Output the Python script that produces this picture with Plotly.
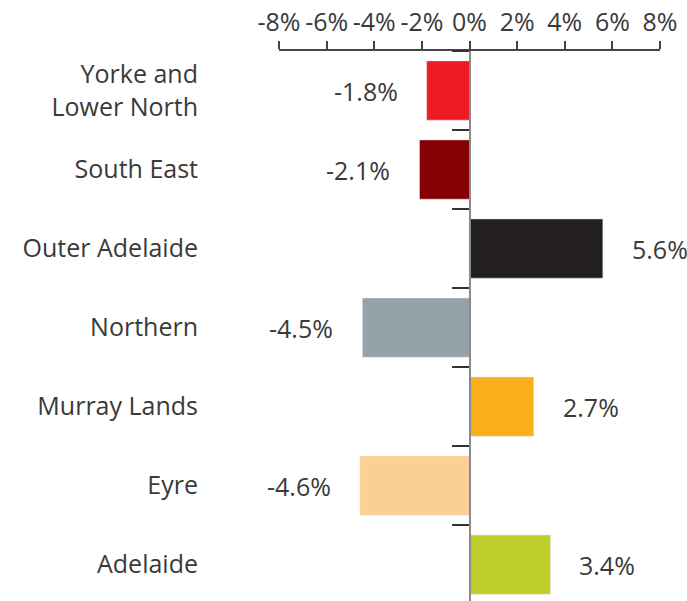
import plotly.graph_objects as go

regions = ['Yorke and<br>Lower North', 'South East', 'Outer Adelaide', 'Northern',
           'Murray Lands', 'Eyre', 'Adelaide']
change_pct = [-1.8, -2.1, 5.6, -4.5, 2.7, -4.6, 3.4]
bar_colors = ['#ED1C24', '#850005', '#231F20', '#95A3A8', '#F9AE1C', '#FCCF94', '#BECD2A']
x_ticks = [-8, -6, -4, -2, 0, 2, 4, 6, 8]

FONT = 'Open Sans'
TEXT = '#3a3a3a'
SIZE = 25

fig = go.Figure()

# Bars on the label axis (left)
fig.add_trace(go.Bar(
    x=change_pct, y=regions, orientation='h',
    marker=dict(color=bar_colors, line=dict(width=0)),
    yaxis='y', hoverinfo='x+y',
))
# Invisible copy so the zero-line axis gets its categories
fig.add_trace(go.Bar(
    x=change_pct, y=regions, orientation='h',
    marker=dict(color='rgba(0,0,0,0)'), yaxis='y2',
    hoverinfo='skip', showlegend=False,
))

# Value labels beside each bar
for r, v in zip(regions, change_pct):
    fig.add_annotation(
        x=v, y=r, yref='y', text=f'{v:.1f}%', showarrow=False,
        xanchor='left' if v > 0 else 'right',
        xshift=27 if v > 0 else -27,
        font=dict(family=FONT, size=SIZE, color=TEXT),
    )

y_range = [6.46, -0.5]

fig.update_layout(
    width=687, height=601,
    margin=dict(l=279, r=27, t=51, b=0),
    plot_bgcolor='white', paper_bgcolor='white',
    showlegend=False, barmode='overlay', bargap=0.25,
    font=dict(family=FONT, size=SIZE, color=TEXT),
    xaxis=dict(
        side='top', range=[-8, 8], tickvals=x_ticks,
        ticktext=[f'{t}%' for t in x_ticks],
        showgrid=False, zeroline=False, automargin=False,
        showline=True, linecolor='#444', linewidth=1.5,
        ticks='outside', ticklen=8, tickwidth=1.5, tickcolor='#444',
        tickfont=dict(family=FONT, size=SIZE, color=TEXT),
    ),
    yaxis=dict(
        type='category', range=y_range, automargin=False,
        showgrid=False, zeroline=False, showline=False, ticks='',
        ticklabelstandoff=80,
        tickfont=dict(family=FONT, size=SIZE, color=TEXT),
    ),
    yaxis2=dict(
        type='category', range=y_range, overlaying='y',
        anchor='free', position=0.5, automargin=False,
        side='left', showgrid=False, zeroline=False,
        showline=True, linecolor='#8a8a8a', linewidth=2,
        ticks='outside', tickson='boundaries', ticklen=17, tickwidth=1.5,
        tickcolor='#333', showticklabels=False,
    ),
)

# drop the browser's default 8px body margin so the figure sits at 0,0
fig.write_html('out.html', config={'displayModeBar': False},
               post_script="document.body.style.margin='0';")
